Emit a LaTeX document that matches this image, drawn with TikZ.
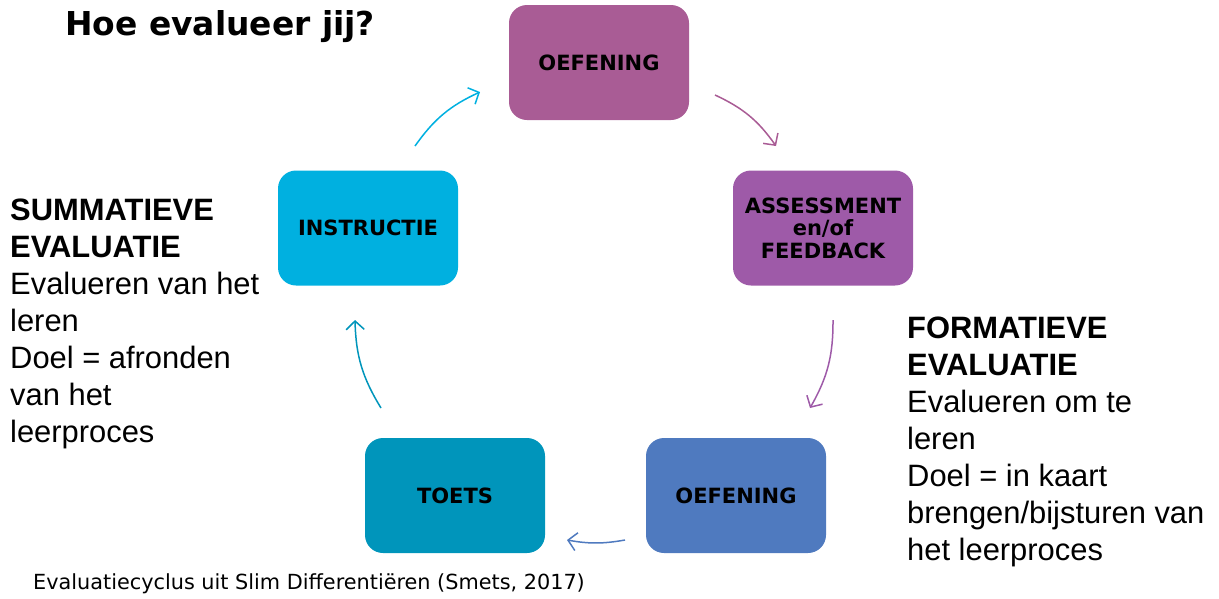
\documentclass[tikz,border=0pt]{standalone}
\usepackage{fontspec}
\setmainfont{Liberation Sans}
\newfontfamily\boxfont{DejaVu Sans}
\usetikzlibrary{arrows.meta}
\definecolor{cOefTop}{RGB}{169,92,149}
\definecolor{cAss}{RGB}{158,90,168}
\definecolor{cOefBot}{RGB}{79,122,191}
\definecolor{cToets}{RGB}{0,149,187}
\definecolor{cInstr}{RGB}{0,176,224}
\tikzset{
  stepbox/.style={rounded corners=18pt, minimum width=180pt, minimum height=115pt,
    inner sep=0pt, align=center, text=black,
    font=\boxfont\bfseries\fontsize{21}{22.5}\selectfont},
  cyclearrow/.style={line width=1.5pt, -{Straight Barb[length=8.5pt,width=18pt]}},
  sidetext/.style={anchor=north west, inner sep=0pt, align=left,
    font=\fontsize{30.9}{37}\selectfont}
}
\begin{document}
\begin{tikzpicture}[x=1pt,y=-1pt]
\useasboundingbox (0,0) rectangle (1219,598);
% boxes
\node[stepbox, fill=cOefTop] (oefTop) at (599,62.5) {OEFENING};
\node[stepbox, fill=cAss] (ass) at (823,228) {ASSESSMENT\\en/of\\FEEDBACK};
\node[stepbox, fill=cOefBot] (oefBot) at (736,495.5) {OEFENING};
\node[stepbox, fill=cToets] (toets) at (455,495.5) {TOETS};
\node[stepbox, fill=cInstr] (instr) at (368,228) {INSTRUCTIE};
% arrow endpoints
\coordinate (a1s) at (415,146); \coordinate (a1e) at (480,92);
\coordinate (a2s) at (715,95);  \coordinate (a2e) at (776,146);
\coordinate (a3s) at (833,320); \coordinate (a3e) at (810,408);
\coordinate (a4s) at (625,540); \coordinate (a4e) at (567,540);
\coordinate (a5s) at (381,408); \coordinate (a5e) at (355,320);
\draw[cyclearrow, cInstr] (a1s) to[bend left=15] (a1e);
\draw[cyclearrow, cOefTop] (a2s) to[bend left=15] (a2e);
\draw[cyclearrow, cAss] (a3s) to[bend left=15] (a3e);
\draw[cyclearrow, cOefBot] (a4s) to[bend left=10] (a4e);
\draw[cyclearrow, cToets] (a5s) to[bend left=15] (a5e);
% title
\node[anchor=base west, inner sep=0pt, font=\boxfont\bfseries\fontsize{32.9}{36}\selectfont] (title) at (65,35) {Hoe evalueer jij?};
% side texts
\node[sidetext] (summ) at (10,199) {\textbf{SUMMATIEVE}\\\textbf{EVALUATIE}\\Evalueren van het\\leren\\Doel = afronden\\van het\\leerproces};
\node[sidetext] (form) at (907,317) {\textbf{FORMATIEVE}\\\textbf{EVALUATIE}\\Evalueren om te\\leren\\Doel = in kaart\\brengen/bijsturen van\\het leerproces};
% source
\node[anchor=base west, inner sep=0pt, font=\boxfont\fontsize{20.8}{24}\selectfont] (src) at (33,589) {Evaluatiecyclus uit Slim Differenti\"eren (Smets, 2017)};
\end{tikzpicture}
\end{document}
